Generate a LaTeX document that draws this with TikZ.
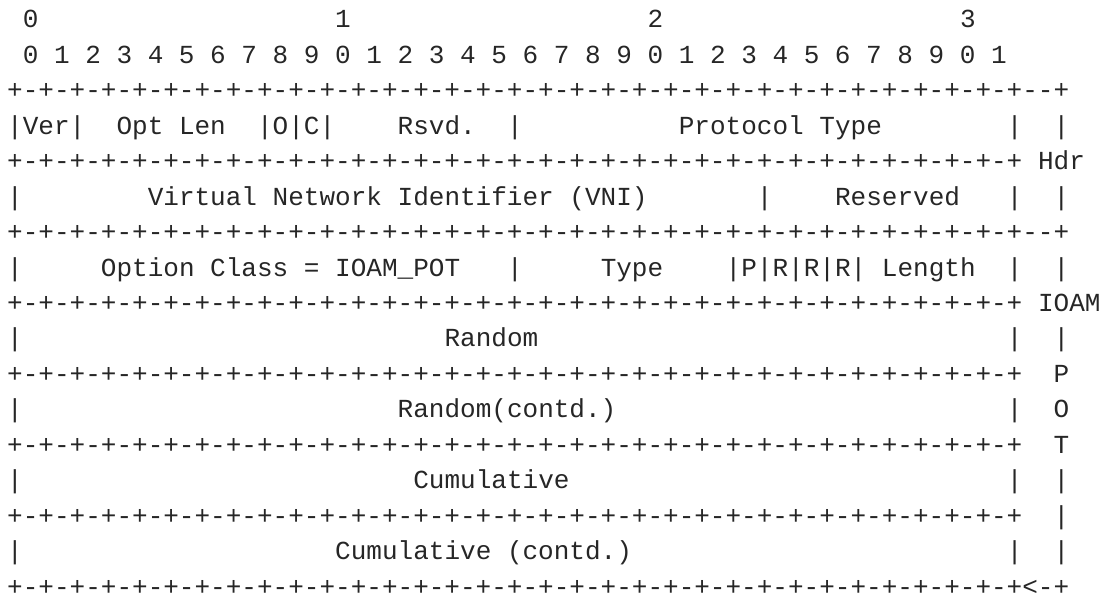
\documentclass[tikz,border=0pt]{standalone}
\usepackage{fontspec}
\newfontfamily\asciimono{Liberation Mono}
\definecolor{ink}{RGB}{38,38,38}
\newcommand\eightpm{+-+-+-+-+-+-+-+-}
\newcommand\bdline{\eightpm\eightpm\eightpm\eightpm+}
% segment: name, column, row, text
\newcommand\seg[4]{\node[txt] (#1) at ({7.19+15.62*#2},{599-27.9-35.45*#3}) {#4};}
\begin{document}
\begin{tikzpicture}[x=1pt,y=1pt,
  txt/.style={anchor=base west, inner sep=0pt, outer sep=0pt, text=ink,
    font=\asciimono\fontsize{26.03}{30}\selectfont\frenchspacing}]
\useasboundingbox (0,0) rectangle (1101,599);
% row 0 and 1: bit numbering
\seg{n0a}{1}{0}{0}
\seg{n0b}{21}{0}{1}
\seg{n0c}{41}{0}{2}
\seg{n0d}{61}{0}{3}
\seg{bits}{1}{1}{0 1 2 3 4 5 6 7 8 9 0 1 2 3 4 5 6 7 8 9 0 1 2 3 4 5 6 7 8 9 0 1}
% row 2
\seg{b2}{0}{2}{\bdline-\kern0pt-+}
% row 3
\seg{ver}{0}{3}{|Ver|}
\seg{optlen}{7}{3}{Opt Len}
\seg{oc}{16}{3}{|O|C|}
\seg{rsvd}{25}{3}{Rsvd.}
\seg{s3a}{32}{3}{|}
\seg{ptype}{43}{3}{Protocol Type}
\seg{s3b}{64}{3}{|}
\seg{s3c}{67}{3}{|}
% row 4
\seg{b4}{0}{4}{\bdline}
\seg{hdr}{66}{4}{Hdr}
% row 5
\seg{s5a}{0}{5}{|}
\seg{vni}{9}{5}{Virtual Network Identifier (VNI)}
\seg{s5b}{48}{5}{|}
\seg{reserved}{53}{5}{Reserved}
\seg{s5c}{64}{5}{|}
\seg{s5d}{67}{5}{|}
% row 6
\seg{b6}{0}{6}{\bdline-\kern0pt-+}
% row 7
\seg{s7a}{0}{7}{|}
\seg{optclass}{6}{7}{Option Class = IOAM\_POT}
\seg{s7b}{32}{7}{|}
\seg{type}{38}{7}{Type}
\seg{prrr}{46}{7}{|P|R|R|R|}
\seg{length}{56}{7}{Length}
\seg{s7c}{64}{7}{|}
\seg{s7d}{67}{7}{|}
% row 8
\seg{b8}{0}{8}{\bdline}
\seg{ioam}{66}{8}{IOAM}
% row 9
\seg{s9a}{0}{9}{|}
\seg{random}{28}{9}{Random}
\seg{s9b}{64}{9}{|}
\seg{s9c}{67}{9}{|}
% row 10
\seg{b10}{0}{10}{\bdline}
\seg{potp}{67}{10}{P}
% row 11
\seg{s11a}{0}{11}{|}
\seg{randomc}{25}{11}{Random(contd.)}
\seg{s11b}{64}{11}{|}
\seg{poto}{67}{11}{O}
% row 12
\seg{b12}{0}{12}{\bdline}
\seg{pott}{67}{12}{T}
% row 13
\seg{s13a}{0}{13}{|}
\seg{cumul}{26}{13}{Cumulative}
\seg{s13b}{64}{13}{|}
\seg{s13c}{67}{13}{|}
% row 14
\seg{b14}{0}{14}{\bdline}
\seg{s14}{67}{14}{|}
% row 15
\seg{s15a}{0}{15}{|}
\seg{cumulc}{21}{15}{Cumulative (contd.)}
\seg{s15b}{64}{15}{|}
\seg{s15c}{67}{15}{|}
% row 16
\seg{b16}{0}{16}{\bdline<-+}
\end{tikzpicture}
\end{document}
